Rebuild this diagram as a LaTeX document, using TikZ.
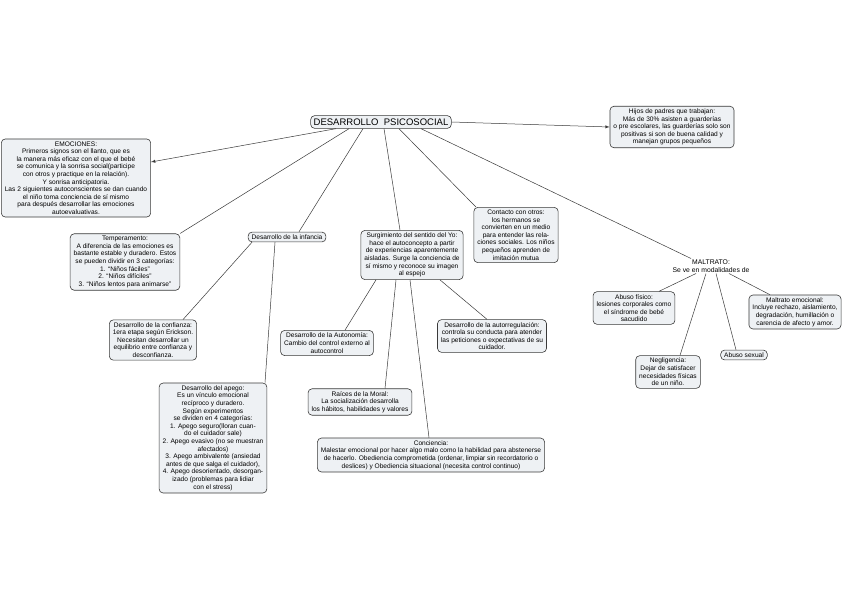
\documentclass[tikz,border=0pt]{standalone}
\usepackage{fontspec}
\setmainfont{Liberation Sans}
\definecolor{cardfill}{HTML}{EEF1F4}
\definecolor{linecol}{HTML}{3A3A3A}
\tikzset{
	card/.style={draw=linecol,fill=cardfill,rounded corners=4pt,align=center,
		inner xsep=3.5pt,inner ysep=2.5pt,line width=0.6pt,font=\fontsize{6.6}{7.6}\selectfont},
	plain/.style={align=center,inner sep=1pt,font=\fontsize{6.8}{7.8}\selectfont},
	link/.style={draw=linecol,line width=0.5pt},
	arrowlink/.style={link,-latex}
}
\begin{document}
\begin{tikzpicture}[x=1pt,y=-1pt]
\fill[white] (0,0) rectangle (848,599);
\useasboundingbox (0,0) rectangle (848,599);
% main topic
\node[card,font=\fontsize{9.5}{10}\selectfont,inner sep=3pt] (title) at (381,122) {DESARROLLO\ \ PSICOSOCIAL};
% first level
\node[card] (emociones) at (76,178) {EMOCIONES:\\Primeros signos son el llanto, que es\\la manera m\'as eficaz con el que el beb\'e\\se comunica y la sonrisa social(participe\\con otros y practique en la relaci\'on).\\Y sonrisa anticipatoria.\\Las 2 siguientes autoconscientes se dan cuando\\el ni\~no toma conciencia de s\'i mismo\\para despu\'es desarrollar las emociones\\autoevaluativas.};
\node[card] (hijos) at (672,127) {Hijos de padres que trabajan:\\M\'as de 30\% asisten a guarder\'ias\\o pre escolares, las guarder\'ias solo son\\positivas si son de buena calidad y\\manejan grupos peque\~nos};
\node[card] (temper) at (125,262) {Temperamento:\\A diferencia de las emociones es\\bastante estable y duradero. Estos\\se pueden dividir en 3 categor\'ias:\\1. ``Ni\~nos f\'aciles''\\2. ``Ni\~nos dif\'iciles''\\3. ``Ni\~nos lentos para animarse''};
\node[card] (infancia) at (287,237) {Desarrollo de la infancia};
\node[card] (yo) at (412,255) {Surgimiento del sentido del Yo:\\hace el autoconcepto a partir\\de experiencias aparentemente\\aisladas. Surge la conciencia de\\s\'i mismo y reconoce su imagen\\al espejo};
\node[card] (contacto) at (516,235) {Contacto con otros:\\los hermanos se\\convierten en un medio\\para entender las rela-\\ciones sociales. Los ni\~nos\\peque\~nos aprenden de\\imitaci\'on mutua};
\node[plain] (maltrato) at (711,266) {MALTRATO:\\Se ve en modalidades de};
% desarrollo de la infancia
\node[card] (confianza) at (153,340) {Desarrollo de la confianza:\\1era etapa seg\'un Erickson.\\Necesitan desarrollar un\\equilibrio entre confianza y\\desconfianza.};
\node[card] (apego) at (213,438) {Desarrollo del apego:\\Es un v\'inculo emocional\\rec\'iproco y duradero.\\Seg\'un experimentos\\se dividen en 4 categor\'ias:\\1. Apego seguro(lloran cuan-\\do el cuidador sale)\\2. Apego evasivo (no se muestran\\afectados)\\3. Apego ambivalente (ansiedad\\antes de que salga el cuidador),\\4. Apego desorientado, desorgan-\\izado (problemas para lidiar\\con el stress)};
% sentido del yo
\node[card] (autonomia) at (327,343) {Desarrollo de la Autonom\'ia:\\Cambio del control externo al\\autocontrol};
\node[card] (moral) at (360,402) {Ra\'ices de la Moral:\\La socializaci\'on desarrolla\\los h\'abitos, habilidades y valores};
\node[card] (conciencia) at (431,455) {Conciencia:\\Malestar emocional por hacer algo malo como la habilidad para abstenerse\\de hacerlo. Obediencia comprometida (ordenar, limpiar sin recordatorio o\\deslices) y Obediencia situacional (necesita control continuo)};
\node[card] (autoreg) at (492,336) {Desarrollo de la autorregulaci\'on:\\controla su conducta para atender\\las peticiones o expectativas de su\\cuidador.};
% maltrato
\node[card] (fisico) at (634,308) {Abuso f\'isico:\\lesiones corporales como\\el s\'indrome de beb\'e\\sacudido};
\node[card] (neglig) at (668,372) {Negligencia:\\Dejar de satisfacer\\necesidades f\'isicas\\de un ni\~no.};
\node[card] (sexual) at (744,355) {Abuso sexual};
\node[card] (emocional) at (795,312) {Maltrato emocional:\\Incluye rechazo, aislamiento,\\degradaci\'on, humillaci\'on o\\carencia de afecto y amor.};
% connectors
\draw[arrowlink] ([xshift=-45pt]title.south) -- (emociones.north east |- 0,162);
\draw[arrowlink] (title.east) -- (hijos.west);
\draw[link] ([xshift=-32pt]title.south) -- (temper.north east);
\draw[link] ([xshift=-18pt]title.south) -- ([xshift=12pt]infancia.north);
\draw[link] ([xshift=3pt]title.south) -- ([xshift=-12pt]yo.north);
\draw[link] ([xshift=18pt]title.south) -- ([xshift=-40pt]contacto.north);
\draw[link] ([xshift=40pt]title.south) -- ([xshift=-20pt]maltrato.north);
\draw[link] ([xshift=-35pt]infancia.south) -- ([xshift=30pt]confianza.north);
\draw[link] ([xshift=-12pt]infancia.south) -- ([xshift=52pt]apego.north);
\draw[link] ([xshift=-36pt]yo.south) -- ([xshift=18pt]autonomia.north);
\draw[link] ([xshift=-16pt]yo.south) -- ([xshift=25pt]moral.north);
\draw[link] ([xshift=-2pt]yo.south) -- ([xshift=-2pt]conciencia.north);
\draw[link] ([xshift=28pt]yo.south) -- ([xshift=-5pt]autoreg.north);
\draw[link] ([xshift=-15pt]maltrato.south) -- ([xshift=25pt]fisico.north);
\draw[link] ([xshift=-5pt]maltrato.south) -- ([xshift=12pt]neglig.north);
\draw[link] ([xshift=5pt]maltrato.south) -- ([xshift=-8pt]sexual.north);
\draw[link] ([xshift=18pt]maltrato.south) -- ([xshift=-25pt]emocional.north);
\end{tikzpicture}
\end{document}
